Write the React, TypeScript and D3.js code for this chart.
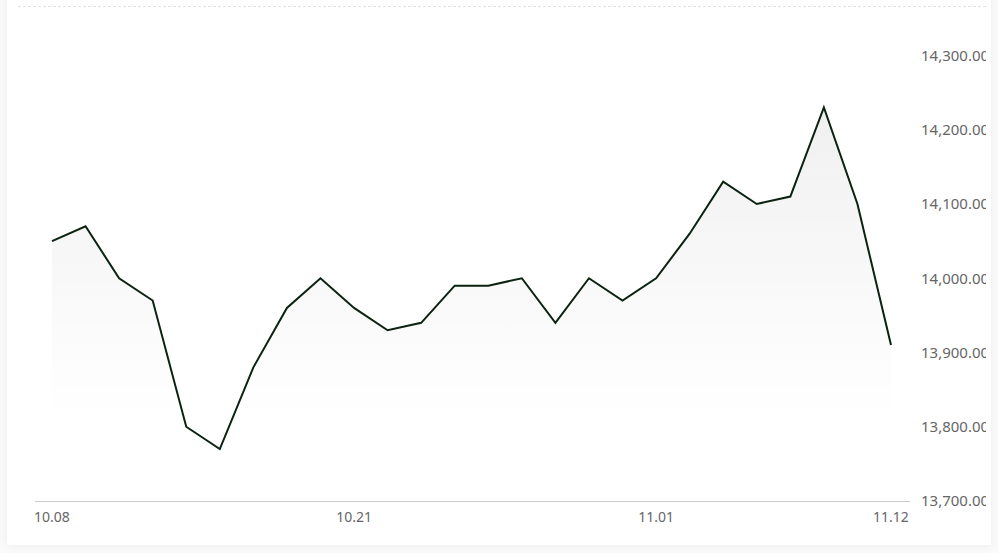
import React, { useEffect, useRef } from "react";
import * as d3 from "d3";

const dates = [
  "10.08", "10.09", "10.10", "10.11", "10.14", "10.15", "10.16", "10.17", "10.18",
  "10.21", "10.22", "10.23", "10.24", "10.25", "10.28", "10.29", "10.30", "10.31",
  "11.01", "11.04", "11.05", "11.06", "11.07", "11.08", "11.11", "11.12",
];
const prices = [
  14050, 14070, 14000, 13970, 13800, 13770, 13880, 13960, 14000,
  13960, 13930, 13940, 13990, 13990, 14000, 13940, 14000, 13970,
  14000, 14060, 14130, 14100, 14110, 14230, 14100, 13910,
];
const yTicks = [13700, 13800, 13900, 14000, 14100, 14200, 14300];
const xTickLabels = ["10.08", "10.21", "11.01", "11.12"];

const W = 998;
const H = 553;

export default function App() {
  const ref = useRef<SVGSVGElement>(null);

  useEffect(() => {
    document.body.style.margin = "0";
    const svg = d3.select(ref.current);
    svg.selectAll("*").remove();

    const defs = svg.append("defs");
    const shadow = defs.append("filter").attr("id", "shadow").attr("x", "-5%").attr("y", "-5%").attr("width", "110%").attr("height", "110%");
    shadow.append("feDropShadow").attr("dx", 0).attr("dy", 0).attr("stdDeviation", 4).attr("flood-color", "#000").attr("flood-opacity", 0.06);
    defs.append("clipPath").attr("id", "card").append("rect").attr("x", 7).attr("y", -10).attr("width", 979).attr("height", 555);
    const grad = defs.append("linearGradient").attr("id", "area").attr("x1", 0).attr("x2", 0)
      .attr("gradientUnits", "userSpaceOnUse").attr("y1", 100).attr("y2", 420);
    grad.append("stop").attr("offset", 0).attr("stop-color", "#000").attr("stop-opacity", 0.06);
    grad.append("stop").attr("offset", 1).attr("stop-color", "#000").attr("stop-opacity", 0);

    svg.append("rect").attr("width", W).attr("height", H).attr("fill", "#fafafa");
    svg.append("rect").attr("x", 7).attr("y", -10).attr("width", 984).attr("height", 555)
      .attr("fill", "#fff").attr("filter", "url(#shadow)");

    const g = svg.append("g").attr("clip-path", "url(#card)");

    g.append("line").attr("x1", 18).attr("x2", 986).attr("y1", 6.5).attr("y2", 6.5)
      .attr("stroke", "#e2e2e2").attr("stroke-dasharray", "3,2");

    const x = d3.scalePoint<string>().domain(dates).range([52, 891]);
    const y = d3.scaleLinear().domain([13700, 14300]).range([501, 55.5]);

    const area = d3.area<number>()
      .x((_, i) => x(dates[i])!)
      .y0(y(13700))
      .y1((d) => y(d));
    g.append("path").datum(prices).attr("d", area).attr("fill", "url(#area)");

    const line = d3.line<number>()
      .x((_, i) => x(dates[i])!)
      .y((d) => y(d));
    g.append("path").datum(prices).attr("d", line).attr("fill", "none")
      .attr("stroke", "#0b2211").attr("stroke-width", 2).attr("stroke-linejoin", "miter");

    g.append("line").attr("x1", 35).attr("x2", 910).attr("y1", 501.5).attr("y2", 501.5)
      .attr("stroke", "#cccccc");

    g.selectAll("text.y").data(yTicks).join("text").attr("class", "y")
      .attr("x", 921).attr("y", (d) => y(d)).attr("dy", "0.35em")
      .attr("font-family", "'Noto Sans', sans-serif").attr("font-size", 15).attr("fill", "#666")
      .text((d) => d3.format(",.2f")(d));

    g.selectAll("text.x").data(xTickLabels).join("text").attr("class", "x")
      .attr("x", (d) => x(d)!).attr("y", 522).attr("text-anchor", "middle")
      .attr("font-family", "'Noto Sans', sans-serif").attr("font-size", 14).attr("fill", "#666")
      .text((d) => d);
  }, []);

  return <svg ref={ref} width={W} height={H} style={{ display: "block" }} />;
}
